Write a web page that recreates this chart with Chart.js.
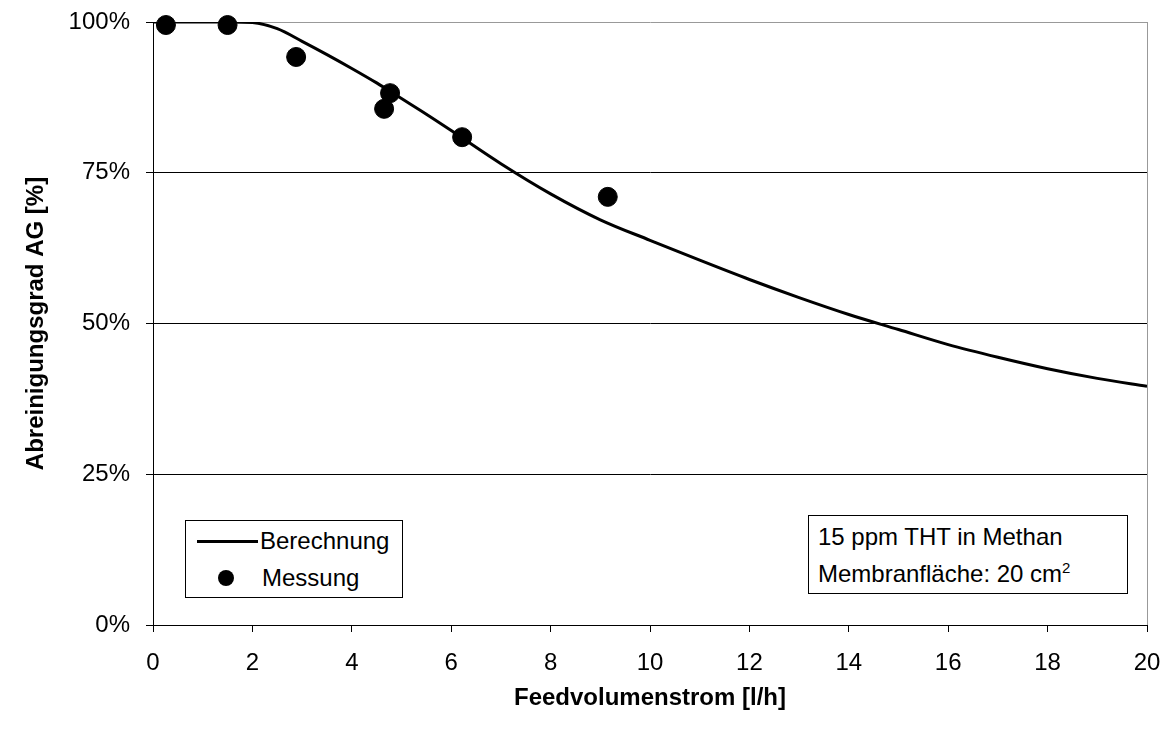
<!DOCTYPE html>
<html>
<head>
<meta charset="utf-8">
<script src="https://cdn.jsdelivr.net/npm/chart.js@4"></script>
<style>
  body { margin: 0; background: #fff; font-family: 'Liberation Sans', Arial, sans-serif; }
  #wrap { position: relative; width: 1166px; height: 741px; }
  .box { position: absolute; border: 1px solid #000; background: #fff; font-size: 24px; color: #000; box-sizing: border-box; }
  #legend { left: 185px; top: 520px; width: 218px; height: 78px; }
  #legend .row { position: absolute; left: 0; height: 30px; line-height: 30px; }
  #legend .line { position: absolute; left: 11px; top: 14px; width: 61px; height: 3px; background: #000; }
  #legend .dot { position: absolute; left: 32px; top: 7px; width: 16px; height: 16px; border-radius: 50%; background: #000; }
  #note { left: 808px; top: 515px; width: 320px; height: 79px; padding-left: 9px; line-height: 37px; padding-top: 2px; }
  sup { font-size: 15px; vertical-align: 9px; line-height: 0; }
</style>
</head>
<body>
<div id="wrap">
  <canvas id="chart" width="1166" height="741"></canvas>
  <div class="box" id="legend">
    <div class="row" style="top:5px;"><span class="line"></span><span style="position:absolute;left:74px;">Berechnung</span></div>
    <div class="row" style="top:42px;"><span class="dot"></span><span style="position:absolute;left:76px;">Messung</span></div>
  </div>
  <div class="box" id="note">15 ppm THT in Methan<br>Membranfläche: 20 cm<sup>2</sup></div>
</div>
<script>
// Berechnung (calculated curve)
const calcFlow = [0, 0.5, 1, 1.5, 2, 2.5, 3, 3.5, 4, 4.5, 5, 5.5, 6, 7, 8, 9, 10, 11, 12, 13, 14, 15, 16, 17, 18, 19, 20];
const calcAG = [100, 100, 100, 100, 99.9, 98.9, 96.8, 94.6, 92.3, 89.9, 87.3, 84.7, 82.0, 76.5, 71.5, 67.2, 63.8, 60.5, 57.3, 54.3, 51.5, 49.0, 46.5, 44.4, 42.5, 40.9, 39.6];

// Messung (measured points)
const measFlow = [0.26, 1.5, 2.88, 4.65, 4.77, 6.22, 9.15];
const measAG = [99.5, 99.5, 94.2, 85.6, 88.2, 80.9, 71.0];

Chart.defaults.font.family = "'Liberation Sans', Arial, sans-serif";
Chart.defaults.font.size = 24;
Chart.defaults.color = '#000';

const ctx = document.querySelector('#chart').getContext('2d');

new Chart(ctx, {
  type: 'scatter',
  data: {
    datasets: [{
      label: 'Messung',
      data: measFlow.map((x, i) => ({ x, y: measAG[i] })),
      backgroundColor: '#000',
      borderColor: '#000',
      pointRadius: 9.5,
      pointHoverRadius: 9.5,
      clip: false,
      order: 0
    }, {
      label: 'Berechnung',
      data: calcFlow.map((x, i) => ({ x, y: calcAG[i] })),
      showLine: true,
      borderColor: '#000',
      borderWidth: 3,
      pointRadius: 0,
      cubicInterpolationMode: 'monotone',
      order: 1
    }]
  },
  options: {
    responsive: false,
    animation: false,
    layout: { padding: { top: 22, right: 19, bottom: 0, left: 0 } },
    plugins: {
      legend: { display: false },
      tooltip: { enabled: false }
    },
    scales: {
      x: {
        type: 'linear',
        min: 0,
        max: 20,
        afterFit: s => { s.height = 116; s.paddingLeft = 0; s.paddingRight = 0; },
        ticks: { stepSize: 2, padding: 17, maxRotation: 0 },
        grid: {
          color: c => (c.tick && c.tick.value === 20) ? '#999' : 'rgba(0,0,0,0)',
          tickColor: '#000',
          tickLength: 7
        },
        border: { color: '#000', width: 1 },
        title: {
          display: true,
          text: 'Feedvolumenstrom [l/h]',
          font: { weight: 'bold', size: 24 },
          padding: { top: 0, bottom: 28 }
        }
      },
      y: {
        min: 0,
        max: 100,
        afterFit: s => { s.width = 153; s.paddingTop = 0; s.paddingBottom = 0; },
        ticks: { stepSize: 25, padding: 16, callback: v => v + '%' },
        grid: {
          color: c => (c.tick && c.tick.value === 100) ? '#999' : '#000',
          tickColor: '#000',
          tickLength: 7
        },
        border: { color: '#000', width: 1 },
        title: {
          display: true,
          text: 'Abreinigungsgrad AG [%]',
          font: { weight: 'bold', size: 24 },
          padding: { top: 22, bottom: 0 }
        }
      }
    }
  }
});
</script>
</body>
</html>
